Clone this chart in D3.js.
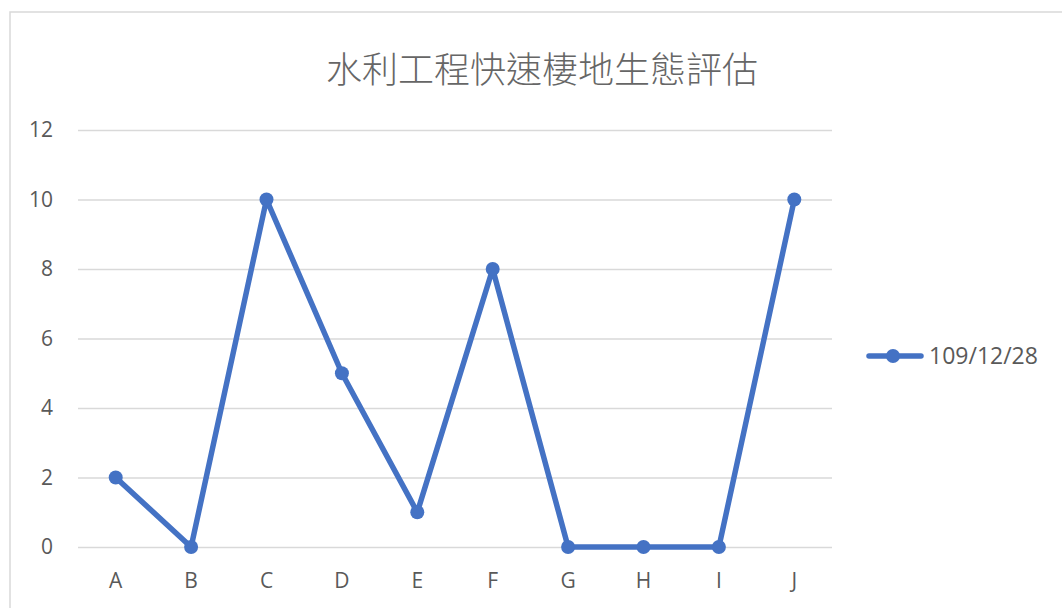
<!DOCTYPE html>
<html><head><meta charset="utf-8">
<script src="https://cdn.jsdelivr.net/npm/d3@7"></script>
<style>body{margin:0;background:#fff;overflow:hidden}svg{display:block}</style>
</head><body>
<script>
const categories = ["A","B","C","D","E","F","G","H","I","J"];
const values = [2,0,10,5,1,8,0,0,0,10];
const yTicks = [0,2,4,6,8,10,12];
const seriesName = "109/12/28";
const title = "水利工程快速棲地生態評估";

const W = 1062, H = 608;
const svg = d3.select("body").append("svg").attr("width", W).attr("height", H);
svg.append("rect").attr("x", 10).attr("y", 12).attr("width", 1100).attr("height", 700)
  .attr("fill", "#fff").attr("stroke", "#d9d9d9").attr("stroke-width", 1.5);

const pLeft = 78, pRight = 832, pTop = 130, pBottom = 547;
const x = d3.scaleBand().domain(categories).range([pLeft, pRight]);
const y = d3.scaleLinear().domain([0, 12]).range([pBottom, pTop]);
const font = "'Open Sans','Noto Sans CJK TC',sans-serif";

svg.append("text").attr("x", 542).attr("y", 83).attr("text-anchor", "middle")
  .attr("font-family", "'Noto Sans CJK TC',sans-serif").attr("font-size", 36).attr("font-weight", 300)
  .attr("fill", "#666666").text(title);

const yAxis = svg.append("g").attr("transform", `translate(${pLeft},0)`)
  .call(d3.axisLeft(y).tickValues(yTicks).tickSize(-(pRight - pLeft)).tickPadding(25));
yAxis.select(".domain").remove();
yAxis.selectAll("line").attr("stroke", "#d9d9d9").attr("stroke-width", 1.5);
yAxis.selectAll("text").attr("font-family", font).attr("font-size", 21).attr("fill", "#595959");

const xAxis = svg.append("g").attr("transform", `translate(0,${pBottom})`)
  .call(d3.axisBottom(x).tickSize(0).tickPadding(26));
xAxis.select(".domain").remove();
xAxis.selectAll("text").attr("font-family", font).attr("font-size", 21).attr("fill", "#595959");

const color = "#4472C4";
const cx = d => x(d) + x.bandwidth() / 2;
const line = d3.line().x((d, i) => cx(categories[i])).y(d => y(d));
svg.append("path").datum(values).attr("d", line).attr("fill", "none")
  .attr("stroke", color).attr("stroke-width", 5.5).attr("stroke-linejoin", "round").attr("stroke-linecap", "round");
svg.selectAll("circle.pt").data(values).join("circle").attr("class", "pt")
  .attr("cx", (d, i) => cx(categories[i])).attr("cy", d => y(d)).attr("r", 7).attr("fill", color);

const lg = svg.append("g");
lg.append("line").attr("x1", 869).attr("x2", 921).attr("y1", 356).attr("y2", 356)
  .attr("stroke", color).attr("stroke-width", 5.5).attr("stroke-linecap", "round");
lg.append("circle").attr("cx", 893).attr("cy", 356).attr("r", 7).attr("fill", color);
lg.append("text").attr("x", 929).attr("y", 364).attr("font-family", font).attr("font-size", 23)
  .attr("fill", "#595959").text(seriesName);
</script>
</body></html>
